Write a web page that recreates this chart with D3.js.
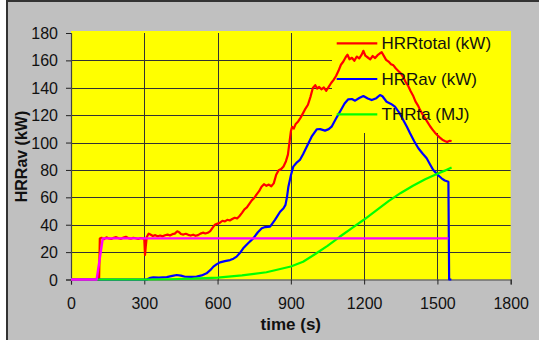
<!DOCTYPE html>
<html><head><meta charset="utf-8">
<script src="https://cdn.jsdelivr.net/npm/d3@7"></script>
<style>
html,body{margin:0;padding:0;background:#fff;}
svg{display:block;font-family:"Liberation Sans",Arial,sans-serif;}
</style></head>
<body><svg id="c" width="539" height="340"></svg>
<script>
// ---- data ----
const xTicks = [0, 300, 600, 900, 1200, 1500, 1800];
const yTicks = [0, 20, 40, 60, 80, 100, 120, 140, 160, 180];
const seriesNames = ["HRRtotal (kW)", "HRRav (kW)", "THRta (MJ)"];

const totalT = [0,115,118,125,135,145,155,165,175,185,195,205,215,225,235,245,255,265,275,285,295,300,303,306,310,318,325,335,345,355,365,375,385,395,405,415,425,435,442,450,460,470,480,490,500,510,520,530,540,550,560,570,580,590,600,610,620,630,640,650,660,670,680,690,700,710,720,730,740,750,760,770,780,790,800,810,820,830,840,850,860,870,880,888,895,900,905,912,920,930,940,950,960,970,980,990,1000,1008,1016,1025,1035,1045,1055,1065,1075,1085,1095,1105,1115,1125,1132,1140,1150,1160,1170,1180,1190,1197,1205,1215,1225,1235,1245,1255,1265,1272,1280,1290,1300,1310,1320,1330,1340,1350,1360,1370,1380,1390,1400,1410,1420,1430,1440,1450,1460,1470,1480,1490,1500,1510,1520,1530,1540,1550,1558];
const totalV = [0,0,30,30.5,29.5,30.8,30,29.6,30.4,30.9,30.1,29.7,30.6,31.2,30.2,29.8,30.5,30.1,29.6,30.3,30,29.5,18,24,31,33.5,32.8,31.8,32.4,31.6,32.1,31.5,32.3,32.8,32.2,33.1,33.5,35.2,34.6,33.2,32.8,33.4,32.6,32.1,32.7,31.9,32.4,33.5,34.2,33.6,34.1,35.3,37.8,40.2,40.8,41.5,42.9,42.4,43.6,43.1,44.2,45.1,44.6,46.4,48.7,51.2,52.6,55.3,57.8,59.5,62.2,64.5,67.8,69.6,68.4,69.3,68.1,70.2,76.5,79.8,80.6,82.5,86.4,91.2,101,108,111.5,110.2,113.6,115.4,118.2,121.5,124.8,127.6,133.2,139.8,141.9,139.4,140.6,138.9,140.2,137.8,140.7,143.5,145.8,148.6,152.4,156.8,159.2,162.5,164.1,160.8,161.9,159.7,162.8,161.5,164.2,167,163.4,162.1,160.8,163.2,161.7,163.8,165.2,166,163.5,160.4,159.1,157.2,156.4,154.1,152.3,150.5,147.8,144.2,141.5,137.6,134.4,130.1,127.2,123.5,120.4,117.6,114.8,111.9,109.5,107.2,105.3,103.6,102.1,101.2,100.4,101.3,101];

const avT = [0,310,325,337,360,392,415,433,450,467,490,514,535,555,570,583,597,610,630,651,665,678,692,705,725,746,765,781,795,815,835,856,870,878,884,890,900,910,925,937,950,965,985,1006,1020,1040,1055,1067,1085,1101,1120,1135,1150,1163,1180,1197,1215,1231,1250,1265,1275,1292,1310,1326,1345,1360,1375,1388,1405,1422,1440,1456,1470,1483,1500,1517,1530,1545,1548,1557];
const avV = [0,0,1.2,1.6,1.4,1.7,2.6,3.3,2.8,2,1.9,2.1,3,4.5,6.8,9.4,11.2,12.5,13.4,14.2,15.2,16.7,19.5,22.8,26.5,30,34.5,37.4,38.3,38.6,43.5,49.5,52,54.5,60,67.8,76,82.4,85.6,87.3,91.5,97,104.3,109.7,109.8,108.7,109.8,111.6,117.5,122.5,128.5,131.6,131.8,130.6,132.5,134,132.2,131,132.4,134.7,133.8,129.8,128.2,126.2,121.5,116.5,111.5,106.8,101,95.8,91.8,88.5,84,80,76.6,73.9,72.3,71.4,0,0];

const thrT = [0,300,400,500,600,700,800,900,950,1000,1050,1100,1150,1200,1250,1300,1350,1400,1450,1500,1530,1558];
const thrV = [0,0,0.2,0.6,1.4,3,5.3,9.5,13,18.6,24.5,31.2,37.5,43.8,50.5,57.2,63.2,68.5,73.2,77.2,79.5,81.8];

const burnerT = [0,105,130,1545];
const burnerV = [0,0,30,30];

// ---- drawing ----
const svg = d3.select("#c");
const x = d3.scaleLinear().domain([0,1800]).range([71,510.7]);
const y = d3.scaleLinear().domain([0,180]).range([279.5,33]);

// chart background + border
svg.append("rect").attr("x",6).attr("y",0).attr("width",533).attr("height",340).attr("fill","#c0c0c0");
svg.append("line").attr("x1",7).attr("x2",7).attr("y1",0).attr("y2",340).attr("stroke","#333").attr("stroke-width",2);
svg.append("line").attr("x1",6).attr("x2",539).attr("y1",1).attr("y2",1).attr("stroke","#333").attr("stroke-width",2);

// plot area
svg.append("rect").attr("x",x(0)).attr("y",31).attr("width",x(1800)-x(0)).attr("height",y(0)-31).attr("fill","#ffff00");

const grid = svg.append("g").attr("stroke","#333").attr("stroke-width",1);
yTicks.filter(d=>d>0 && d<180).forEach(d=>{
  grid.append("line").attr("x1",x(0)).attr("x2",x(1800)).attr("y1",Math.round(y(d))+0.5).attr("y2",Math.round(y(d))+0.5);
});
xTicks.filter(d=>d>0 && d<1800).forEach(d=>{
  grid.append("line").attr("x1",Math.round(x(d))+0.5).attr("x2",Math.round(x(d))+0.5).attr("y1",y(180)).attr("y2",y(0));
});

// legend background (covers grid)
const lg = {x0:332, y0:31, x1:511, y1:133};
svg.append("rect").attr("x",lg.x0).attr("y",lg.y0).attr("width",lg.x1-lg.x0).attr("height",lg.y1-lg.y0).attr("fill","#ffff00");

// axes
const fmt = d3.format("d");
const yAxis = d3.axisLeft(y).tickValues(yTicks).tickFormat(fmt).tickSize(5).tickPadding(8);
const xAxis = d3.axisBottom(x).tickValues(xTicks).tickFormat(fmt).tickSize(5).tickPadding(13);
const ga = svg.append("g").attr("transform",`translate(${x(0)},0)`).call(yAxis);
const gb = svg.append("g").attr("transform",`translate(0,${y(0)})`).call(xAxis);
[ga,gb].forEach(g=>{
  g.select(".domain").attr("stroke","#444").attr("stroke-width",1.2);
  g.selectAll(".tick line").attr("stroke","#222");
  g.selectAll(".tick text").attr("font-size",16).attr("fill","#111").attr("font-family","'Liberation Sans',Arial,sans-serif");
});
ga.selectAll(".tick text").attr("dy","0.35em");

// series
const line = d3.line().x(d=>x(d[0])).y(d=>y(d[1]));
const zip = (a,b)=>a.map((t,i)=>[t,b[i]]);
const series = [
  {t:totalT, v:totalV, color:"#ff0000", w:2.2},
  {t:avT, v:avV, color:"#0000ff", w:2.2},
  {t:thrT, v:thrV, color:"#00ff00", w:2.2},
  {t:burnerT, v:burnerV, color:"#ff00ff", w:2.4}
];
series.forEach(s=>{
  svg.append("path").datum(zip(s.t,s.v)).attr("d",line)
    .attr("fill","none").attr("stroke",s.color).attr("stroke-width",s.w)
    .attr("stroke-linejoin","round");
});

// legend
const legY = [43.3, 79, 114.3];
seriesNames.forEach((n,i)=>{
  svg.append("line").attr("x1",336.7).attr("x2",377.3).attr("y1",legY[i]).attr("y2",legY[i])
    .attr("stroke",series[i].color).attr("stroke-width",2.2);
  svg.append("text").attr("x",381.5).attr("y",legY[i]).attr("dy","0.35em")
    .attr("font-size",17).attr("fill","#111").text(n);
});

// axis titles
svg.append("text").attr("x",290.8).attr("y",330).attr("text-anchor","middle")
  .attr("font-size",17).attr("font-weight","bold").attr("fill","#111").text("time (s)");
svg.append("text").attr("transform","translate(26.5,156.5) rotate(-90)").attr("text-anchor","middle")
  .attr("font-size",16).attr("font-weight","bold").attr("fill","#111").text("HRRav (kW)");
</script></body></html>
